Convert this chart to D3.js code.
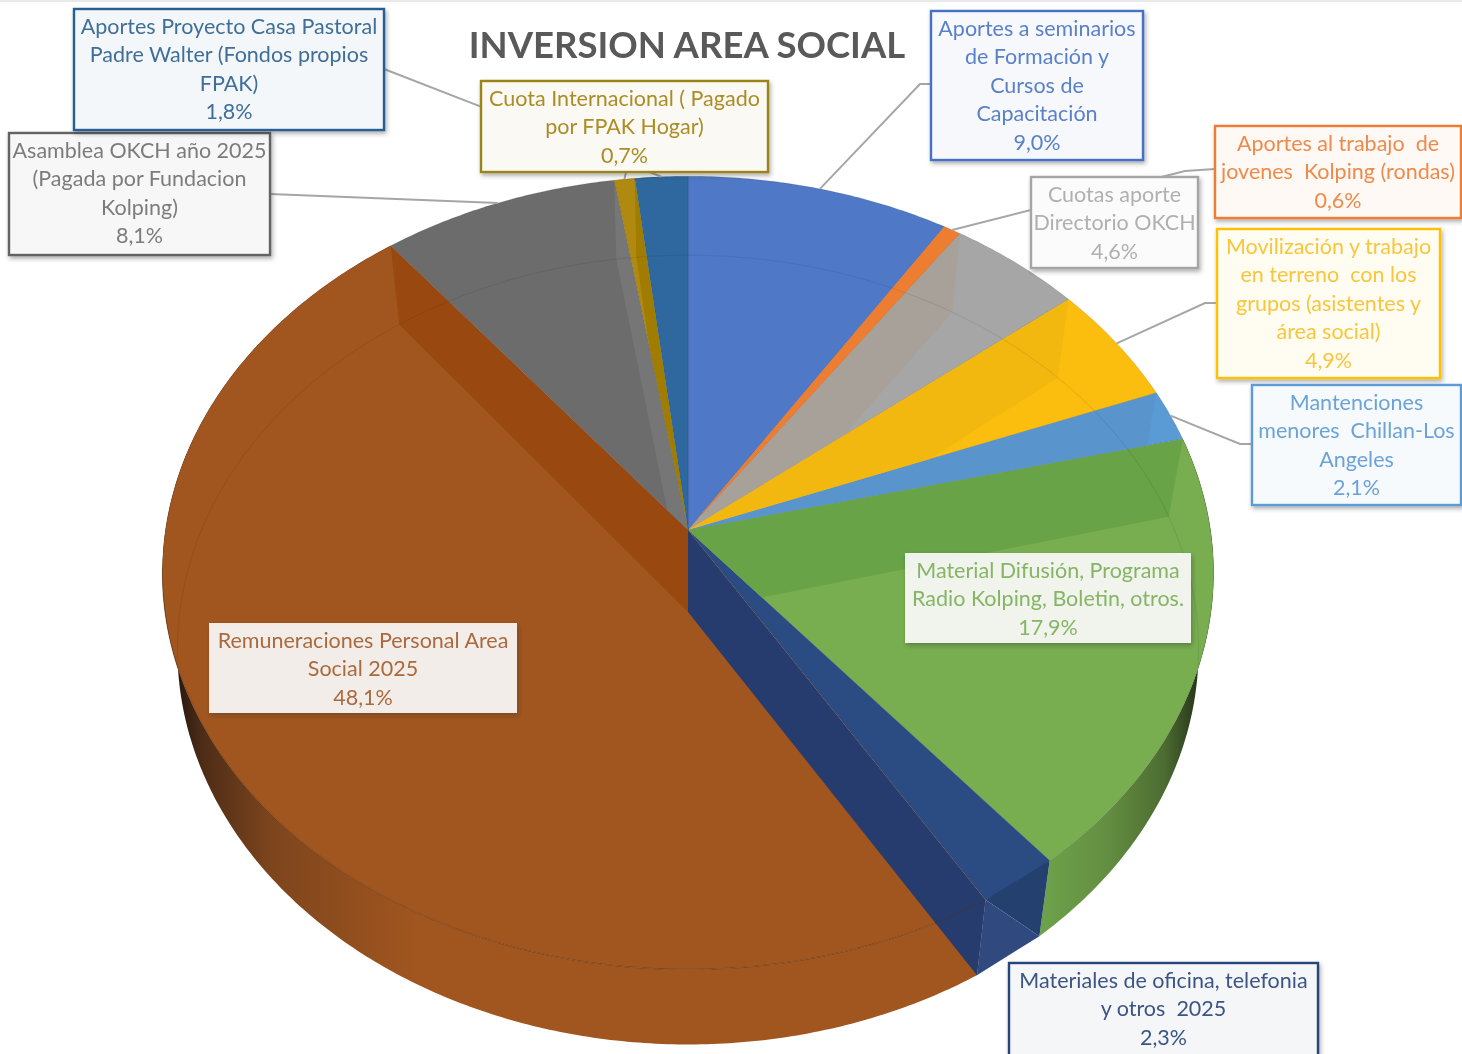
<!DOCTYPE html>
<html>
<head>
<meta charset="utf-8">
<script src="https://cdn.jsdelivr.net/npm/d3@7"></script>
<style>
  html, body { margin: 0; padding: 0; background: #fff; overflow: hidden; }
  svg { display: block; filter: blur(0.5px); }
  text { font-family: Lato, "Open Sans", sans-serif; }
</style>
</head>
<body>
<div id="chart"></div>
<script>
// Values as printed on the data labels, clockwise from 12 o'clock
const categories = [
  ['Aportes a seminarios', 'de Formación y', 'Cursos de', 'Capacitación'],
  ['Aportes al trabajo  de', 'jovenes  Kolping (rondas)'],
  ['Cuotas aporte', 'Directorio OKCH'],
  ['Movilización y trabajo', 'en terreno  con los', 'grupos (asistentes y', 'área social)'],
  ['Mantenciones', 'menores  Chillan-Los', 'Angeles'],
  ['Material Difusión, Programa', 'Radio Kolping, Boletin, otros.'],
  ['Materiales de oficina, telefonia', 'y otros  2025'],
  ['Remuneraciones Personal Area', 'Social 2025'],
  ['Asamblea OKCH año 2025', '(Pagada por Fundacion', 'Kolping)'],
  ['Cuota Internacional ( Pagado', 'por FPAK Hogar)'],
  ['Aportes Proyecto Casa Pastoral', 'Padre Walter (Fondos propios', 'FPAK)']
];
const values = [9.0, 0.6, 4.6, 4.9, 2.1, 17.9, 2.3, 48.1, 8.1, 0.7, 1.8];

// Styles per slice
const sliceColors = ['#4f79c6', '#ed7d31', '#a6a6a6', '#fbbe0e', '#5b9bd5', '#78ae50', '#2b4c82', '#a2561f', '#6c6c6c', '#b08a10', '#2f689f'];
const textColors = ['#5a80c8', '#ee8a4a', '#b0b0b0', '#f8c63c', '#6ba3d8', '#85b565', '#3c5585', '#ab6a3e', '#7c7c7c', '#ab8c25', '#3f6f99'];
const strokeColors = ['#4472c4', '#ed7d31', '#a5a5a5', '#ffc000', '#5b9bd5', null, '#264478', null, '#636363', '#9a8416', '#255e91'];

// Label boxes [left, top, right, bottom] and where their leader leaves the box
const boxes = [
  [931, 11, 1143, 160], [1215, 126, 1461, 218], [1031, 177, 1198, 268], [1217, 229, 1440, 378],
  [1252, 385, 1461, 505], [905, 553, 1191, 643], [1009, 963, 1318, 1062], [209, 623, 517, 713],
  [9, 133, 270, 255], [481, 81, 768, 172], [74, 9, 384, 130]
];
const leaders = [
  [[931, 84], [920, 84]], [[1215, 169], [1185, 171]], null, [[1217, 303], [1205, 303]],
  [[1252, 444], [1240, 444]], null, null, null,
  [[270, 194]], [[626, 172]], [[384, 69]]
];

// Radial walls seen through the translucent top: [slice, colour, which boundary]
const walls = [
  [2, '#a8a199', 'start'], [3, '#f2b80f', 'start'], [4, '#5a94cc', 'start'], [5, '#68a347', 'start'],
  [7, '#263c6e', 'start'], [7, '#99490f', 'end'], [8, '#767676', 'end'], [9, '#a07c00', 'end']
];

const width = 1462, height = 1054;
const cx = 688, apexY = 530, baseApexY = 612;
const R = 522.5, H = 392, k = 0.108;   // perspective of the disc
const rimCy = 573, baseCy = 650;       // ellipse centres of top rim and base
const baseSx = 510 / 525, baseSy = 395 / 397;

const rimPt = a => {
  const u = Math.sin(a), v = Math.cos(a), d = 1 + k * v;
  return [cx + R * u / d, apexY - H * v / d];
};
const basePt = a => {
  const [x, y] = rimPt(a);
  return [cx + (x - cx) * baseSx, baseCy + (y - rimCy) * baseSy];
};
const apex = [cx, apexY];
const baseApex = [cx, baseApexY];
const line = d3.line();
const arcAngles = (a0, a1) => {
  const n = Math.max(2, Math.ceil((a1 - a0) / 0.01));
  return d3.range(n + 1).map(i => a0 + (a1 - a0) * i / n);
};

const slices = d3.pie().sort(null).value(d => d)(values);
const pct = v => d3.format('.1f')(v).replace('.', ',') + '%';

const svg = d3.select('#chart').append('svg')
  .attr('width', width).attr('height', height);
const defs = svg.append('defs');

const shadow = defs.append('filter').attr('id', 'boxShadow')
  .attr('x', '-5%').attr('y', '-5%').attr('width', '112%').attr('height', '115%');
shadow.append('feDropShadow').attr('dx', 1.5).attr('dy', 2.5).attr('stdDeviation', 2)
  .attr('flood-color', '#333').attr('flood-opacity', 0.4);

defs.append('clipPath').attr('id', 'discClip').append('path')
  .attr('d', line(arcAngles(0, 2 * Math.PI).map(rimPt)) + 'Z');

// Each slice's sector, reaching past the rim so walls can overhang it
slices.forEach((d, i) => {
  const far = arcAngles(d.startAngle, d.endAngle).map(rimPt)
    .map(p => [cx + (p[0] - cx) * 1.3, apexY + (p[1] - apexY) * 1.3]);
  defs.append('clipPath').attr('id', 'sector' + i).append('path')
    .attr('d', line([apex].concat(far)) + 'Z');
});

const addGradient = (id, x1, x2, stops) => {
  const g = defs.append('linearGradient').attr('id', id)
    .attr('gradientUnits', 'userSpaceOnUse')
    .attr('x1', x1).attr('x2', x2).attr('y1', 0).attr('y2', 0);
  stops.forEach(s => g.append('stop').attr('offset', s[0]).attr('stop-color', s[1]));
};
addGradient('wallBrown', 172, 420, [[0, '#20140c'], [0.12, '#4d2c17'], [0.4, '#7d451d'], [1, '#a2561f']]);
addGradient('wallGreen', 1040, 1206, [[0, '#6da24a'], [0.4, '#648f42'], [0.75, '#4c6c31'], [1, '#1e2a14']]);

svg.append('rect').attr('width', width).attr('height', 2).attr('fill', '#e9e9e9');

// Outer side walls
const sideWall = (a0, a1, fill) => {
  const t = arcAngles(a0, a1);
  svg.append('path')
    .attr('d', line(t.map(rimPt).concat(t.slice().reverse().map(basePt))) + 'Z')
    .attr('fill', fill);
};
sideWall(slices[5].startAngle, slices[5].endAngle, 'url(#wallGreen)');
sideWall(slices[7].startAngle, slices[7].endAngle, 'url(#wallBrown)');

// Top face
svg.append('g').selectAll('path')
  .data(slices)
  .join('path')
  .attr('d', d => line([apex].concat(arcAngles(d.startAngle, d.endAngle).map(rimPt))) + 'Z')
  .attr('fill', (d, i) => sliceColors[i])
  .attr('stroke', 'rgba(0,0,0,0.14)')
  .attr('stroke-width', 0.8);

// Radial walls: from the hub down to the base hub, kept inside the slice they show through
svg.append('g').selectAll('path')
  .data(walls)
  .join('path')
  .attr('clip-path', w => `url(#sector${w[0]})`)
  .attr('d', w => {
    const b = w[2] === 'start' ? slices[w[0]].startAngle : slices[w[0]].endAngle;
    return line([apex, rimPt(b), basePt(b), baseApex]) + 'Z';
  })
  .attr('fill', w => w[1]);

// Dark blue slice: outer wall in two facets
const navy = slices[6];
svg.append('path')
  .attr('d', line([rimPt(navy.startAngle), rimPt(navy.endAngle), basePt(navy.startAngle)]) + 'Z')
  .attr('fill', '#23406f');
svg.append('path')
  .attr('d', line([rimPt(navy.endAngle), basePt(navy.startAngle), basePt(navy.endAngle)]) + 'Z')
  .attr('fill', '#30497f');

// Base rim seen through the top, front rim line
svg.append('path')
  .attr('clip-path', 'url(#discClip)')
  .attr('d', line(arcAngles(0, 2 * Math.PI).map(basePt)))
  .attr('fill', 'none').attr('stroke', 'rgba(0,0,0,0.07)').attr('stroke-width', 1.2);
svg.append('path')
  .attr('d', line(arcAngles(slices[7].startAngle, slices[7].endAngle - 1).map(rimPt)))
  .attr('fill', 'none').attr('stroke', 'rgba(90,45,10,0.35)').attr('stroke-width', 1.2);

// Leader lines, box to the middle of the slice's rim
svg.append('g').selectAll('path')
  .data(slices.map((d, i) => ({ d, i })).filter(e => leaders[e.i]))
  .join('path')
  .attr('d', e => line(leaders[e.i].concat([rimPt((e.d.startAngle + e.d.endAngle) / 2)])))
  .attr('fill', 'none').attr('stroke', '#a6a6a6').attr('stroke-width', 2);

// Data labels
const label = svg.append('g').selectAll('g')
  .data(slices)
  .join('g');

label.append('rect')
  .attr('x', (d, i) => boxes[i][0])
  .attr('y', (d, i) => boxes[i][1])
  .attr('width', (d, i) => boxes[i][2] - boxes[i][0])
  .attr('height', (d, i) => boxes[i][3] - boxes[i][1])
  .attr('fill', (d, i) => strokeColors[i]
    ? d3.interpolateRgb(strokeColors[i], '#fff')(0.95)
    : 'rgba(255,255,255,0.88)')
  .attr('stroke', (d, i) => strokeColors[i] || 'none')
  .attr('stroke-width', 2.4)
  .attr('filter', 'url(#boxShadow)');

label.each(function (d, i) {
  const rows = categories[i].concat([pct(values[i])]);
  d3.select(this).selectAll('text')
    .data(rows)
    .join('text')
    .attr('x', (boxes[i][0] + boxes[i][2]) / 2)
    .attr('y', (r, j) => boxes[i][1] + 25 + j * 28.4)
    .attr('text-anchor', 'middle')
    .attr('font-size', 21.5)
    .style('white-space', 'pre')
    .attr('fill', textColors[i])
    .text(r => r);
});

svg.append('text')
  .attr('x', 687).attr('y', 58)
  .attr('text-anchor', 'middle')
  .attr('font-size', 36.5)
  .attr('font-weight', 700)
  .attr('fill', '#595959')
  .text('INVERSION AREA SOCIAL');
</script>
</body>
</html>
